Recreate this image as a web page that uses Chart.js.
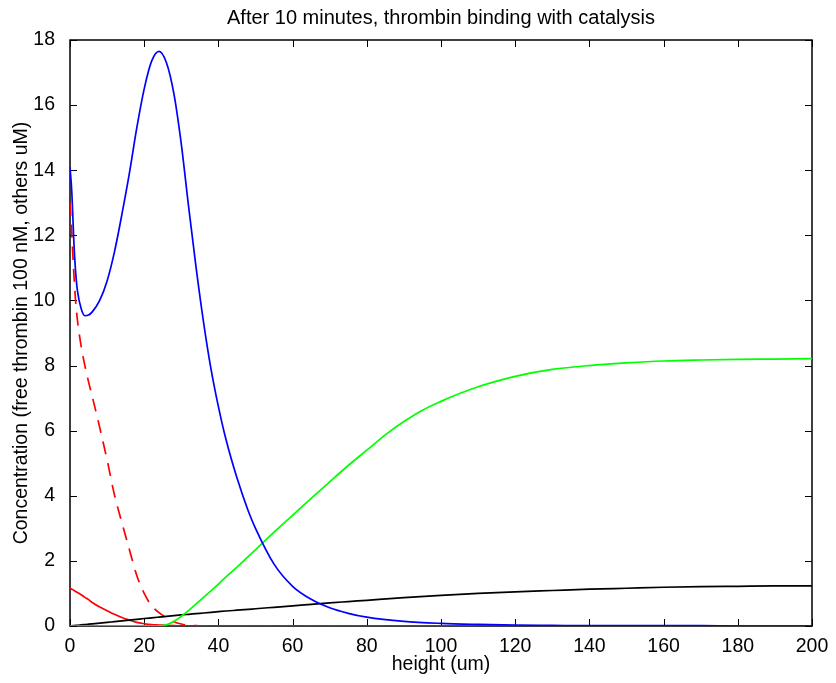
<!DOCTYPE html>
<html>
<head>
<meta charset="utf-8">
<script src="https://cdn.jsdelivr.net/npm/chart.js@4/dist/chart.umd.min.js"></script>
<style>
  html, body { margin: 0; padding: 0; background: #fff; }
  #wrap { width: 836px; height: 683px; }
</style>
</head>
<body>
<div id="wrap"><canvas id="chartCanvas"></canvas></div>
<script>
// alturas (um) donde se leen los valores
const heights = [0, 0.5, 1, 1.5, 2, 3, 4, 5, 6, 8, 10, 12, 14, 16, 18, 20, 22, 24, 26, 28, 30, 32, 34, 36, 38, 40, 42, 45, 48, 50, 55, 60, 65, 70, 75, 80, 90, 100, 110, 120, 130, 140, 150, 160, 170, 180, 190, 200];

const blueVals = [14.1, 13.3, 11.9, 10.9, 10.3, 9.75, 9.53, 9.55, 9.65, 10.0, 10.6, 11.5, 12.65, 13.9, 15.3, 16.5, 17.35, 17.65, 17.3, 16.35, 14.8, 12.85, 11.0, 9.33, 7.9, 6.74, 5.75, 4.55, 3.55, 3.0, 1.9, 1.22, 0.82, 0.56, 0.39, 0.27, 0.14, 0.08, 0.05, 0.03, 0.02, 0.01, 0.01, 0.01, 0.01, 0.0, 0.0, 0.0];

const blackVals = [0, 0.005, 0.011, 0.017, 0.022, 0.033, 0.044, 0.055, 0.066, 0.088, 0.11, 0.134, 0.157, 0.18, 0.205, 0.23, 0.252, 0.274, 0.296, 0.318, 0.34, 0.36, 0.38, 0.4, 0.42, 0.44, 0.46, 0.485, 0.51, 0.53, 0.575, 0.62, 0.665, 0.71, 0.75, 0.79, 0.87, 0.94, 1.0, 1.05, 1.09, 1.13, 1.16, 1.19, 1.21, 1.22, 1.23, 1.23];

const redVals = [1.16, 1.13, 1.1, 1.06, 1.03, 0.96, 0.88, 0.81, 0.72, 0.58, 0.47, 0.36, 0.26, 0.18, 0.11, 0.07, 0.04, 0.03, 0.02, 0.01, 0, 0, 0, 0, 0, 0, 0, 0, 0, 0, 0, 0, 0, 0, 0, 0, 0, 0, 0, 0, 0, 0, 0, 0, 0, 0, 0, 0];

const redDashVals = [13.0, 12.0, 10.9, 10.0, 9.4, 8.6, 8.0, 7.5, 7.05, 6.1, 5.1, 4.02, 3.17, 2.35, 1.55, 1.0, 0.62, 0.41, 0.25, 0.13, 0.06, 0.02, 0.01, 0, 0, 0, 0, 0, 0, 0, 0, 0, 0, 0, 0, 0, 0, 0, 0, 0, 0, 0, 0, 0, 0, 0, 0, 0];

// la curva verde se lee en su propia rejilla (mas puntos en la zona curva)
const greenHeights = [0, 24, 26, 28, 30, 32, 34, 36, 38, 40, 42, 45, 48, 50, 55, 60, 65, 70, 75, 80, 85, 90, 95, 100, 105, 110, 115, 120, 130, 140, 150, 160, 170, 180, 190, 200];
const greenVals = [0, 0.005, 0.04, 0.14, 0.3, 0.48, 0.68, 0.88, 1.08, 1.29, 1.5, 1.81, 2.13, 2.34, 2.88, 3.4, 3.92, 4.43, 4.93, 5.4, 5.87, 6.28, 6.63, 6.9, 7.14, 7.35, 7.52, 7.67, 7.88, 8.0, 8.08, 8.14, 8.17, 8.19, 8.2, 8.21];

const xTicks = [0, 20, 40, 60, 80, 100, 120, 140, 160, 180, 200];
const yTicks = [0, 2, 4, 6, 8, 10, 12, 14, 16, 18];

const TITLE = 'After 10 minutes, thrombin binding with catalysis';
const FONT = 'Liberation Sans, Arial, Helvetica, sans-serif';

function toPoints(xs, vals) {
    return xs.map((h, i) => ({ x: h, y: vals[i] }));
}

function makeSet(xs, vals, color, dash) {
    return {
        data: toPoints(xs, vals),
        borderColor: color,
        backgroundColor: color,
        borderWidth: 1.7,
        borderDash: dash || [],
        pointRadius: 0,
        fill: false,
        cubicInterpolationMode: 'monotone'
    };
}

// caja estilo MATLAB con marcas hacia dentro en los cuatro lados, y titulo centrado sobre el area
const boxTicks = {
    id: 'boxTicks',
    beforeDatasetsDraw(c) {
        const { ctx, chartArea: a, scales } = c;
        const len = 7;
        ctx.save();
        ctx.strokeStyle = '#000';
        ctx.lineWidth = 1;
        ctx.beginPath();
        xTicks.forEach(v => {
            const px = Math.round(scales.x.getPixelForValue(v)) + 0.5;
            ctx.moveTo(px, a.bottom); ctx.lineTo(px, a.bottom - len);
            ctx.moveTo(px, a.top); ctx.lineTo(px, a.top + len);
        });
        yTicks.forEach(v => {
            const py = Math.round(scales.y.getPixelForValue(v)) + 0.5;
            ctx.moveTo(a.left, py); ctx.lineTo(a.left + len, py);
            ctx.moveTo(a.right, py); ctx.lineTo(a.right - len, py);
        });
        ctx.stroke();
        ctx.lineWidth = 1.5;
        ctx.strokeRect(a.left, a.top, a.right - a.left, a.bottom - a.top);

        ctx.fillStyle = '#000';
        ctx.font = '20px ' + FONT;
        ctx.textAlign = 'center';
        ctx.textBaseline = 'middle';
        ctx.fillText(TITLE, (a.left + a.right) / 2, 18);
        ctx.restore();
    }
};

const ctx = document.getElementById('chartCanvas').getContext('2d');

const chart = new Chart(ctx, {
    type: 'line',
    data: {
        datasets: [
            makeSet(heights, blueVals, '#0000ff'),
            makeSet(greenHeights, greenVals, '#00ff00'),
            makeSet(heights, blackVals, '#000000'),
            makeSet(heights, redVals, '#ff0000'),
            makeSet(heights, redDashVals, '#ff0000', [13, 9])
        ]
    },
    options: {
        responsive: true,
        maintainAspectRatio: false,
        animation: false,
        layout: { padding: { left: 10, right: 24, top: 40, bottom: 0 } },
        plugins: {
            legend: { display: false },
            tooltip: { enabled: false },
            title: { display: false }
        },
        scales: {
            x: {
                type: 'linear',
                min: 0,
                max: 200,
                afterBuildTicks: s => { s.ticks = xTicks.map(v => ({ value: v })); },
                afterFit: s => { s.height = 57; },
                grid: { display: false },
                border: { display: false },
                ticks: {
                    color: '#000',
                    padding: 1,
                    maxRotation: 0,
                    font: { family: FONT, size: 19.5 }
                },
                title: {
                    display: true,
                    text: 'height (um)',
                    color: '#000',
                    padding: { top: 0, bottom: 7 },
                    font: { family: FONT, size: 19.5 }
                }
            },
            y: {
                min: 0,
                max: 18,
                afterBuildTicks: s => { s.ticks = yTicks.map(v => ({ value: v })); },
                afterFit: s => { s.width = 60; },
                grid: { display: false },
                border: { display: false },
                ticks: {
                    color: '#000',
                    padding: 7,
                    font: { family: FONT, size: 19.5 }
                },
                title: {
                    display: true,
                    text: 'Concentration (free thrombin 100 nM, others uM)',
                    color: '#000',
                    padding: { top: 0, bottom: 0 },
                    font: { family: FONT, size: 19.5 }
                }
            }
        }
    },
    plugins: [boxTicks]
});
</script>
</body>
</html>
